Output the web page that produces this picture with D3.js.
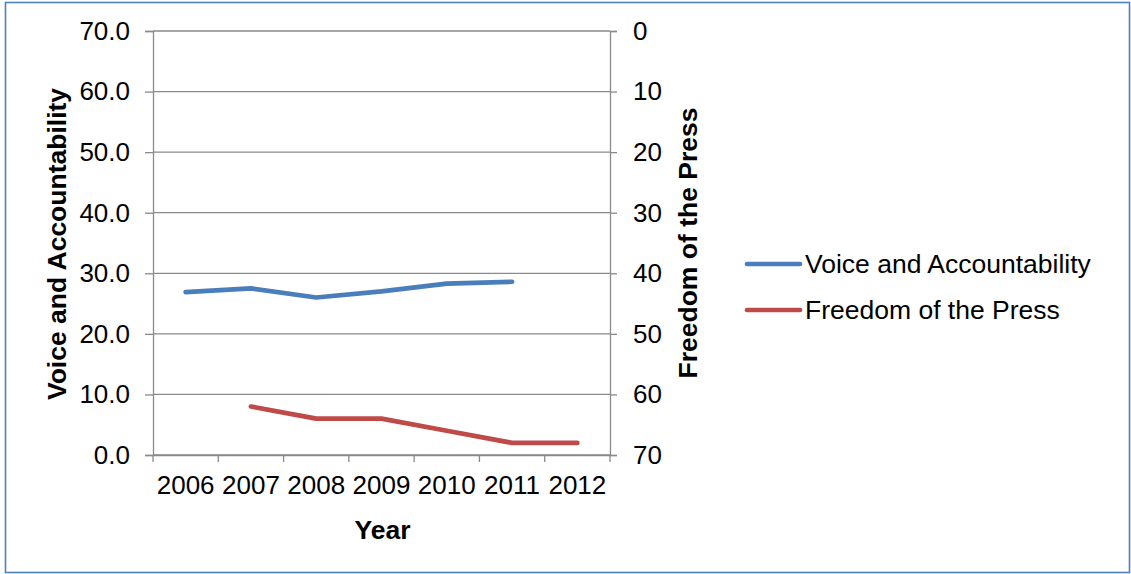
<!DOCTYPE html>
<html>
<head>
<meta charset="utf-8">
<script src="https://cdn.jsdelivr.net/npm/d3@7"></script>
<style>
  html, body { margin: 0; padding: 0; background: #fff; }
  svg { display: block; font-family: "Liberation Sans", Arial, sans-serif; }
</style>
</head>
<body>
<svg id="chart" width="1131" height="574"></svg>
<script>
// Years on the category axis
const years = ["2006", "2007", "2008", "2009", "2010", "2011", "2012"];
// Voice and Accountability (left axis, percentile rank)
const voiceValues = [26.9, 27.5, 26.0, 27.0, 28.3, 28.6, null];
// Freedom of the Press score (right axis, reversed)
const pressValues = [null, 62, 64, 64, 66, 68, 68];
// Tick values for both value axes
const leftTicks = [0, 10, 20, 30, 40, 50, 60, 70];
const rightTicks = [0, 10, 20, 30, 40, 50, 60, 70];

const seriesNames = ["Voice and Accountability", "Freedom of the Press"];
const seriesColors = ["#4a7ebb", "#be4b48"];

const svg = d3.select("#chart");
const plot = { left: 153, right: 610, top: 31, bottom: 455 };
const gridColor = "#8a8a8a";
const fontSize = 26.5;
const tickFont = 26;

// Outer chart frame
svg.append("rect")
  .attr("x", 5.5).attr("y", 2.5)
  .attr("width", 1124).attr("height", 570)
  .attr("fill", "#fff")
  .attr("stroke", "#4f81bd")
  .attr("stroke-width", 1.6);

const x = d3.scaleBand().domain(years).range([plot.left, plot.right]).padding(0);
const yLeft = d3.scaleLinear().domain([0, 70]).range([plot.bottom, plot.top]);
const yRight = d3.scaleLinear().domain([0, 70]).range([plot.top, plot.bottom]);

// Horizontal gridlines
svg.append("g")
  .selectAll("line")
  .data(leftTicks)
  .join("line")
  .attr("x1", plot.left).attr("x2", plot.right)
  .attr("y1", d => yLeft(d)).attr("y2", d => yLeft(d))
  .attr("stroke", gridColor).attr("stroke-width", 1.3);

// Left axis
const leftAxis = svg.append("g")
  .attr("transform", `translate(${plot.left},0)`)
  .call(d3.axisLeft(yLeft).tickValues(leftTicks).tickFormat(d3.format(".1f")).tickSize(8).tickPadding(15));
leftAxis.select(".domain").attr("stroke", gridColor).attr("stroke-width", 1.3);
leftAxis.selectAll(".tick line").attr("stroke", gridColor).attr("stroke-width", 1.3);
leftAxis.selectAll(".tick text")
  .attr("font-size", tickFont).attr("fill", "#000")
  .attr("font-family", "Liberation Sans, Arial, sans-serif");

// Right axis
const rightAxis = svg.append("g")
  .attr("transform", `translate(${plot.right},0)`)
  .call(d3.axisRight(yRight).tickValues(rightTicks).tickFormat(d3.format("d")).tickSize(7).tickPadding(16));
rightAxis.select(".domain").attr("stroke", gridColor).attr("stroke-width", 1.3);
rightAxis.selectAll(".tick line").attr("stroke", gridColor).attr("stroke-width", 1.3);
rightAxis.selectAll(".tick text")
  .attr("font-size", tickFont).attr("fill", "#000")
  .attr("font-family", "Liberation Sans, Arial, sans-serif");

// Bottom axis: labels centred in each band, ticks on band boundaries
const bottomAxis = svg.append("g")
  .attr("transform", `translate(0,${plot.bottom})`)
  .call(d3.axisBottom(x).tickSize(0).tickPadding(21));
bottomAxis.select(".domain").attr("stroke", gridColor).attr("stroke-width", 1.3);
bottomAxis.selectAll(".tick text")
  .attr("font-size", tickFont).attr("fill", "#000")
  .attr("font-family", "Liberation Sans, Arial, sans-serif");

const boundaries = years.map(d => x(d)).concat([x(years[years.length - 1]) + x.bandwidth()]);
svg.append("g")
  .selectAll("line")
  .data(boundaries)
  .join("line")
  .attr("x1", d => d).attr("x2", d => d)
  .attr("y1", plot.bottom).attr("y2", plot.bottom + 7)
  .attr("stroke", gridColor).attr("stroke-width", 1.3);

// Series lines
const cx = (d, i) => x(years[i]) + x.bandwidth() / 2;

const voiceLine = d3.line()
  .defined(d => d != null)
  .x(cx)
  .y(d => yLeft(d));

const pressLine = d3.line()
  .defined(d => d != null)
  .x(cx)
  .y(d => yRight(d));

svg.append("path")
  .datum(voiceValues)
  .attr("d", voiceLine)
  .attr("fill", "none")
  .attr("stroke", seriesColors[0])
  .attr("stroke-width", 4.7)
  .attr("stroke-linecap", "round")
  .attr("stroke-linejoin", "round");

svg.append("path")
  .datum(pressValues)
  .attr("d", pressLine)
  .attr("fill", "none")
  .attr("stroke", seriesColors[1])
  .attr("stroke-width", 4.7)
  .attr("stroke-linecap", "round")
  .attr("stroke-linejoin", "round");

// Axis titles
svg.append("text")
  .attr("transform", "translate(57,244) rotate(-90)")
  .attr("text-anchor", "middle")
  .attr("dominant-baseline", "central")
  .attr("font-size", fontSize).attr("font-weight", "bold")
  .text("Voice and Accountability");

svg.append("text")
  .attr("transform", "translate(688,243) rotate(-90)")
  .attr("text-anchor", "middle")
  .attr("dominant-baseline", "central")
  .attr("font-size", fontSize).attr("font-weight", "bold")
  .text("Freedom of the Press");

svg.append("text")
  .attr("x", (plot.left + plot.right) / 2 + 1)
  .attr("y", 539)
  .attr("text-anchor", "middle")
  .attr("font-size", fontSize).attr("font-weight", "bold")
  .text("Year");

// Legend
const legend = svg.append("g");
const legendRows = [264, 310];
seriesNames.forEach((name, i) => {
  legend.append("line")
    .attr("x1", 747).attr("x2", 800)
    .attr("y1", legendRows[i]).attr("y2", legendRows[i])
    .attr("stroke", seriesColors[i])
    .attr("stroke-width", 4.7)
    .attr("stroke-linecap", "round");
  legend.append("text")
    .attr("x", 805)
    .attr("y", legendRows[i])
    .attr("dominant-baseline", "central")
    .attr("font-size", fontSize)
    .text(name);
});
</script>
</body>
</html>
